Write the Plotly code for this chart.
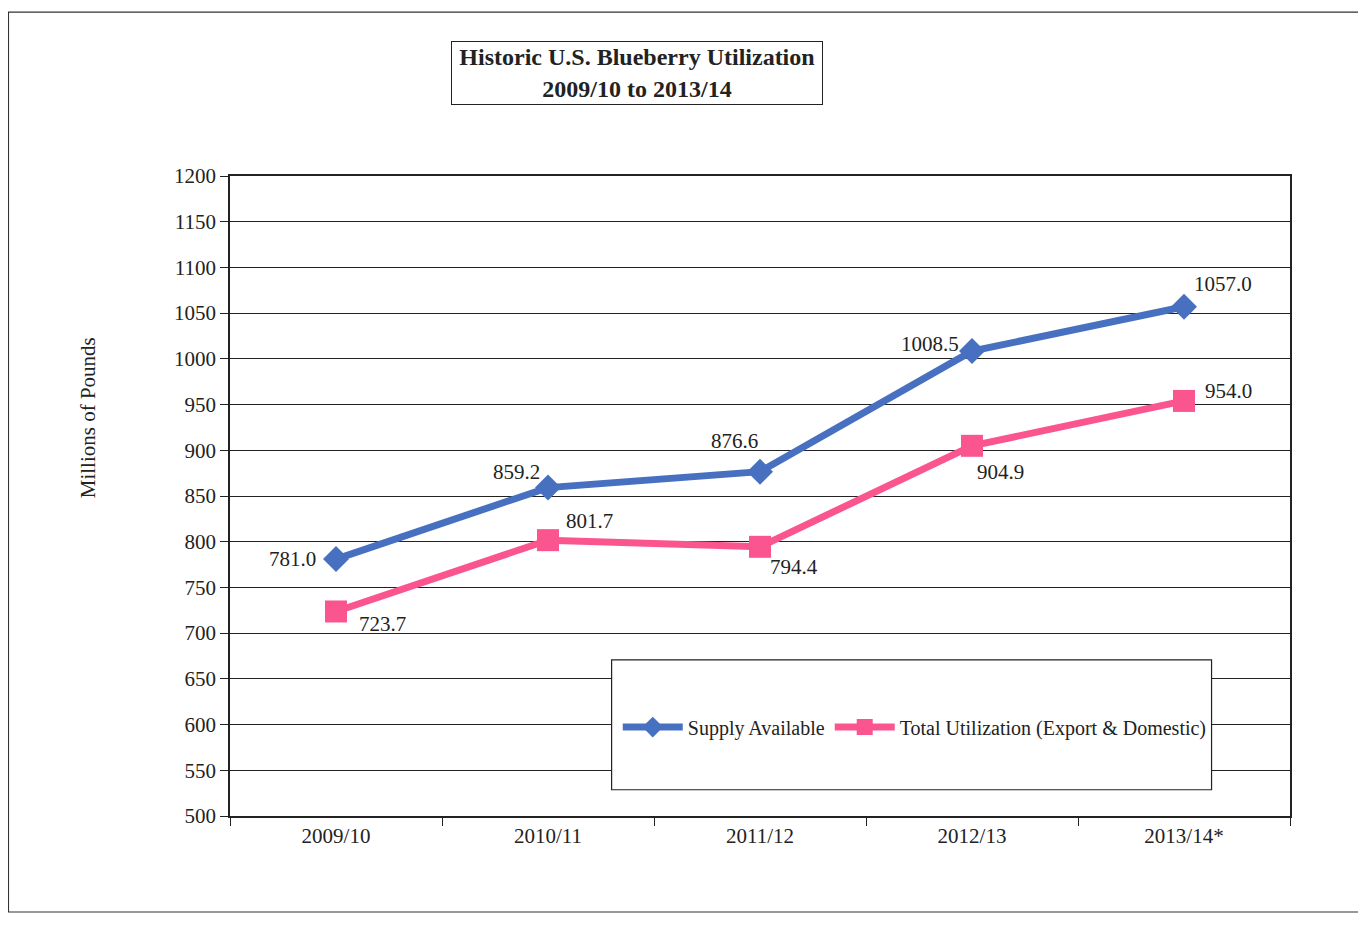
import plotly.graph_objects as go

years = ["2009/10", "2010/11", "2011/12", "2012/13", "2013/14*"]
supply = [781.0, 859.2, 876.6, 1008.5, 1057.0]
utilization = [723.7, 801.7, 794.4, 904.9, 954.0]
y_ticks = list(range(500, 1201, 50))

BLUE = "#4870c0"
PINK = "#fb5590"
FONT = "Liberation Serif"
TXT = "#222"

fig = go.Figure()
fig.add_trace(go.Scatter(
    x=years, y=supply, mode="lines+markers", name="Supply Available",
    line=dict(color=BLUE, width=7),
    marker=dict(symbol="diamond", size=20, color=BLUE),
))
fig.add_trace(go.Scatter(
    x=years, y=utilization, mode="lines+markers",
    name="Total Utilization (Export & Domestic)",
    line=dict(color=PINK, width=7),
    marker=dict(symbol="square", size=22, color=PINK),
))

# data labels: (x offset of near edge, vertical shift of centre, anchor)
sup_off = [(-18, 0, "right"), (-6, 16, "right"), (0, 31, "right"),
           (-11, 7, "right"), (8, 23, "left")]
uti_off = [(21, -13, "left"), (16, 19, "left"), (8, -20, "left"),
           (3, -26, "left"), (19, 10, "left")]
for (yr, v), (dx, dy, xa) in zip(zip(years, supply), sup_off):
    fig.add_annotation(x=yr, y=v, text=f"{v:.1f}", showarrow=False, xshift=dx, yshift=dy,
                       xanchor=xa, yanchor="middle", font=dict(family=FONT, size=21, color=TXT))
for (yr, v), (dx, dy, xa) in zip(zip(years, utilization), uti_off):
    fig.add_annotation(x=yr, y=v, text=f"{v:.1f}", showarrow=False, xshift=dx, yshift=dy,
                       xanchor=xa, yanchor="middle", font=dict(family=FONT, size=21, color=TXT))

# title box
fig.add_annotation(xref="paper", yref="paper", x=0.384, y=1.161, xanchor="center", yanchor="middle",
                   text="<b>Historic U.S. Blueberry Utilization<br>2009/10 to 2013/14</b>",
                   showarrow=False, font=dict(family=FONT, size=24, color=TXT),
                   bordercolor=TXT, borderwidth=1, borderpad=3, bgcolor="white",
                   width=364, height=56)

# y-axis title
fig.add_annotation(xref="paper", yref="paper", x=-0.134, y=0.623, xanchor="center", yanchor="middle",
                   text="Millions of Pounds", textangle=-90, showarrow=False,
                   font=dict(family=FONT, size=21, color=TXT))

# legend box
fig.add_shape(type="rect", xref="paper", yref="paper", x0=0.360, x1=0.926, y0=0.041, y1=0.244,
              fillcolor="white", line=dict(color=TXT, width=1.2), layer="above")

# outer frame
fig.add_shape(type="rect", xref="paper", yref="paper", x0=-0.209, x1=1.066, y0=-0.150, y1=1.256,
              fillcolor="rgba(0,0,0,0)", line=dict(color="#333", width=1.2), layer="below")

fig.update_layout(
    width=1350, height=912,
    margin=dict(l=222, r=68, t=168, b=104),
    paper_bgcolor="white", plot_bgcolor="white",
    font=dict(family=FONT, size=20, color=TXT),
    showlegend=True,
    legend=dict(orientation="h", x=0.646, y=0.139, xanchor="center", yanchor="middle",
                bgcolor="rgba(0,0,0,0)", font=dict(family=FONT, size=20, color=TXT),
                itemwidth=60),
    xaxis=dict(type="category", range=[-0.5, 4.5], showgrid=False, showline=True,
               linecolor=TXT, linewidth=1.5, mirror=True,
               ticks="outside", tickson="boundaries", ticklen=8, tickcolor=TXT,
               tickfont=dict(family=FONT, size=21, color=TXT)),
    yaxis=dict(range=[500, 1200], tickvals=y_ticks, showgrid=True, gridcolor=TXT, gridwidth=1.2,
               showline=True, linecolor=TXT, linewidth=1.5, mirror=True, ticks="outside", ticklen=8,
               tickcolor=TXT, tickfont=dict(family=FONT, size=21, color=TXT),
               zeroline=False),
)

fig.write_html("out.html")
